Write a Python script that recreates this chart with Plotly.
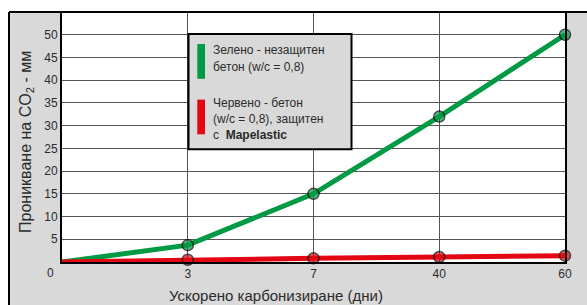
import plotly.graph_objects as go

# Data
days = ["0", "3", "7", "40", "60"]
green_unprotected = [0, 3.7, 15, 32, 50]
red_protected = [0, 0.5, 0.8, 1.1, 1.4]
y_ticks = [5, 10, 15, 20, 25, 30, 35, 40, 45, 50]
x_tick_labels = ["3", "7", "40", "60"]
legend_green_lines = ["Зелено - незащитен", "бетон (w/c = 0,8)"]
legend_red_lines = ["Червено - бетон", "(w/c = 0,8), защитен", "с  <b>Mapelastic</b>"]

GREEN = "#009a44"
RED = "#e30613"
GRAY = "#d9d9d9"
TXT = "#2b2b2b"
FONT = "Liberation Sans, Arial, sans-serif"

marker_sizes = [0, 11, 11, 11, 11]

# plot area in pixels: x 62..565, y 10..262
def px_x(px):
    return (px - 62) / 503.0

def px_y(py):
    return (262 - py) / 252.0

fig = go.Figure()
fig.add_trace(go.Scatter(
    x=days, y=green_unprotected, mode="lines+markers",
    line=dict(color=GREEN, width=5),
    marker=dict(size=marker_sizes, color=GREEN, line=dict(color="black", width=1.5)),
    showlegend=False, cliponaxis=False))
fig.add_trace(go.Scatter(
    x=days, y=red_protected, mode="lines+markers",
    line=dict(color=RED, width=5),
    marker=dict(size=marker_sizes, color=RED, line=dict(color="black", width=1.5)),
    showlegend=False, cliponaxis=False))

shapes = [
    dict(type="rect", xref="paper", yref="paper", x0=-0.3, x1=1.3, y0=1.0, y1=1.2,
         fillcolor="white", line=dict(width=0), layer="above"),
    dict(type="rect", xref="paper", yref="paper", x0=-0.3, x1=px_x(9), y0=-0.3, y1=1.2,
         fillcolor="white", line=dict(width=0), layer="above"),
    dict(type="line", xref="paper", yref="paper", x0=px_x(9), x1=1.3, y0=1.0, y1=1.0,
         line=dict(color="black", width=2), layer="above"),
    dict(type="line", xref="paper", yref="paper", x0=px_x(9), x1=px_x(9), y0=-0.3, y1=1.0,
         line=dict(color="black", width=2), layer="above"),
    dict(type="rect", xref="paper", yref="paper", x0=px_x(188.5), x1=px_x(351.5),
         y0=px_y(148.3), y1=px_y(32.3),
         fillcolor=GRAY, line=dict(color="black", width=2), layer="above"),
    dict(type="rect", xref="paper", yref="paper", x0=px_x(197.3), x1=px_x(205),
         y0=px_y(77.3), y1=px_y(42.3),
         fillcolor=GREEN, line=dict(width=0), layer="above"),
    dict(type="rect", xref="paper", yref="paper", x0=px_x(197.3), x1=px_x(205),
         y0=px_y(133.3), y1=px_y(98.3),
         fillcolor=RED, line=dict(width=0), layer="above"),
]

annotations = []
for i, t in enumerate(legend_green_lines):
    annotations.append(dict(xref="paper", yref="paper", x=px_x(211), y=px_y(48 + 17 * i),
                            xanchor="left", yanchor="middle", showarrow=False, text=t,
                            font=dict(family=FONT, size=12, color=TXT)))
for i, t in enumerate(legend_red_lines):
    annotations.append(dict(xref="paper", yref="paper", x=px_x(211), y=px_y(102 + 16.2 * i),
                            xanchor="left", yanchor="middle", showarrow=False, text=t,
                            font=dict(family=FONT, size=12, color=TXT)))
annotations += [
    dict(x="0", y=0, xref="x", yref="y", text="0", showarrow=False,
         xshift=-12, yshift=-11, font=dict(family=FONT, size=12, color=TXT)),
    dict(xref="paper", yref="paper", x=px_x(276), y=px_y(296), xanchor="center", yanchor="middle",
         showarrow=False, text="Ускорено карбонизиране (дни)",
         font=dict(family=FONT, size=15, color=TXT)),
    dict(xref="paper", yref="paper", x=px_x(27), y=px_y(141), xanchor="center", yanchor="middle",
         showarrow=False, textangle=-90, text="Проникване на CO<sub>2</sub> - мм",
         font=dict(family=FONT, size=16, color=TXT)),
]

fig.update_layout(
    width=587, height=305,
    margin=dict(l=62, r=22, t=10, b=43),
    paper_bgcolor=GRAY, plot_bgcolor="white",
    shapes=shapes, annotations=annotations,
    font=dict(family=FONT, size=12, color=TXT),
    xaxis=dict(type="category", range=[0, 4], tickvals=x_tick_labels, ticktext=x_tick_labels,
               showgrid=True, gridcolor="#555555", gridwidth=1,
               showline=True, linecolor="black", linewidth=2, mirror=True,
               ticks="", zeroline=False, tickfont=dict(size=12, color=TXT)),
    yaxis=dict(range=[0, 55], tickvals=y_ticks,
               showgrid=True, gridcolor="#555555", gridwidth=1,
               showline=True, linecolor="black", linewidth=2, mirror=True,
               ticks="", zeroline=False, tickfont=dict(size=12, color=TXT)),
)

fig.write_html("out.html", config={"displayModeBar": False},
               post_script="document.body.style.margin='0px';")
